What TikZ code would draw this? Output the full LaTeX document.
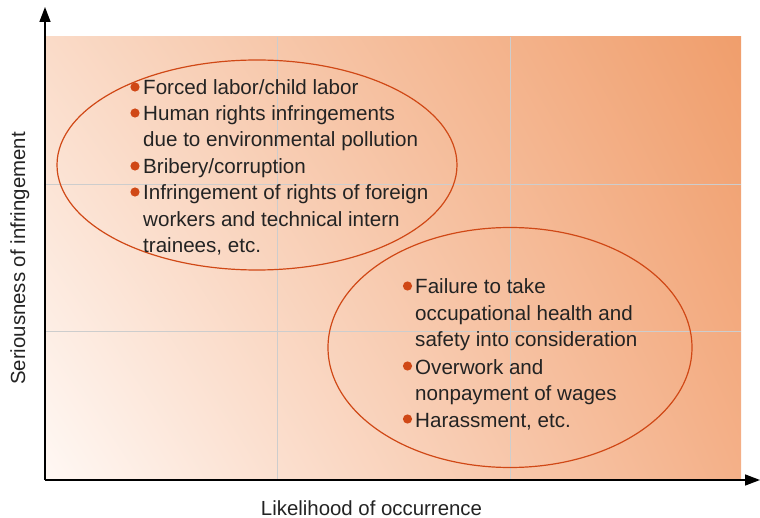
\documentclass[tikz,border=0pt]{standalone}
\usepackage{fontspec}
\setmainfont{Liberation Sans}
\usetikzlibrary{arrows.meta,shadings}
\definecolor{ellc}{RGB}{208,72,22}
\definecolor{gridc}{RGB}{205,205,205}
\definecolor{cUL}{RGB}{250,219,200}
\definecolor{cUR}{RGB}{240,158,108}
\definecolor{cLL}{RGB}{255,248,244}
\definecolor{cLR}{RGB}{244,176,136}
\definecolor{txt}{RGB}{35,35,35}
\tikzset{
  ln/.style={anchor=base west, inner sep=0pt, text=txt, font=\fontsize{20.6}{24}\selectfont},
  axlab/.style={anchor=base, inner sep=0pt, text=txt, font=\fontsize{20.4}{24}\selectfont},
  ell/.style={draw=ellc, line width=1.2pt},
  bul/.style={fill=ellc},
  gridl/.style={draw=gridc, line width=0.9pt},
  axis/.style={draw=black, line width=1.5pt, -{Triangle[length=15pt,width=11pt]}}
}
\begin{document}
\begin{tikzpicture}[x=1pt,y=-1pt]
\useasboundingbox (0,0) rectangle (760,518);
% background
\shade[upper left=cUL, upper right=cUR, lower left=cLL, lower right=cLR] (46,37) rectangle (741,479);
% grid
\draw[gridl] (277,37) -- (277,479);
\draw[gridl] (510,37) -- (510,479);
\draw[gridl] (46,184) -- (741,184);
\draw[gridl] (46,331) -- (741,331);
% axes
\coordinate (o) at (45,480);
\coordinate (ytip) at (45,7);
\coordinate (xtip) at (760,480);
\draw[axis] (o) -- (ytip);
\draw[axis] (o) -- (xtip);
% ellipses
\draw[ell] (257,165) ellipse [x radius=200, y radius=105];
\draw[ell] (510,347.5) ellipse [x radius=182, y radius=120];
% bullet positions
\coordinate (b1) at (135,87);
\coordinate (b2) at (135,113);
\coordinate (b3) at (135,166);
\coordinate (b4) at (135,192);
\coordinate (b5) at (407.5,286);
\coordinate (b6) at (407.5,366);
\coordinate (b7) at (407.5,419);
\foreach \b in {b1,b2,b3,b4,b5,b6,b7}
  \fill[bul] (\b) circle [radius=4.6pt];
% group 1
\node[ln] (t1) at (143,95) {Forced labor/child labor};
\node[ln] (t2) at (143,121) {Human rights infringements};
\node[ln] (t3) at (143,147) {due to environmental pollution};
\node[ln] (t4) at (143,174) {Bribery/corruption};
\node[ln] (t5) at (143,200) {Infringement of rights of foreign};
\node[ln] (t6) at (143,227) {workers and technical intern};
\node[ln] (t7) at (143,253) {trainees, etc.};
% group 2
\node[ln] (u1) at (415,294) {Failure to take};
\node[ln] (u2) at (415,321) {occupational health and};
\node[ln] (u3) at (415,347) {safety into consideration};
\node[ln] (u4) at (415,374) {Overwork and};
\node[ln] (u5) at (415,400) {nonpayment of wages};
\node[ln] (u6) at (415,427) {Harassment, etc.};
% axis labels
\node[axlab] (xl) at (371.5,515) {Likelihood of occurrence};
\node[axlab, rotate=90] (yl) at (25,258.5) {Seriousness of infringement};
\end{tikzpicture}
\end{document}
